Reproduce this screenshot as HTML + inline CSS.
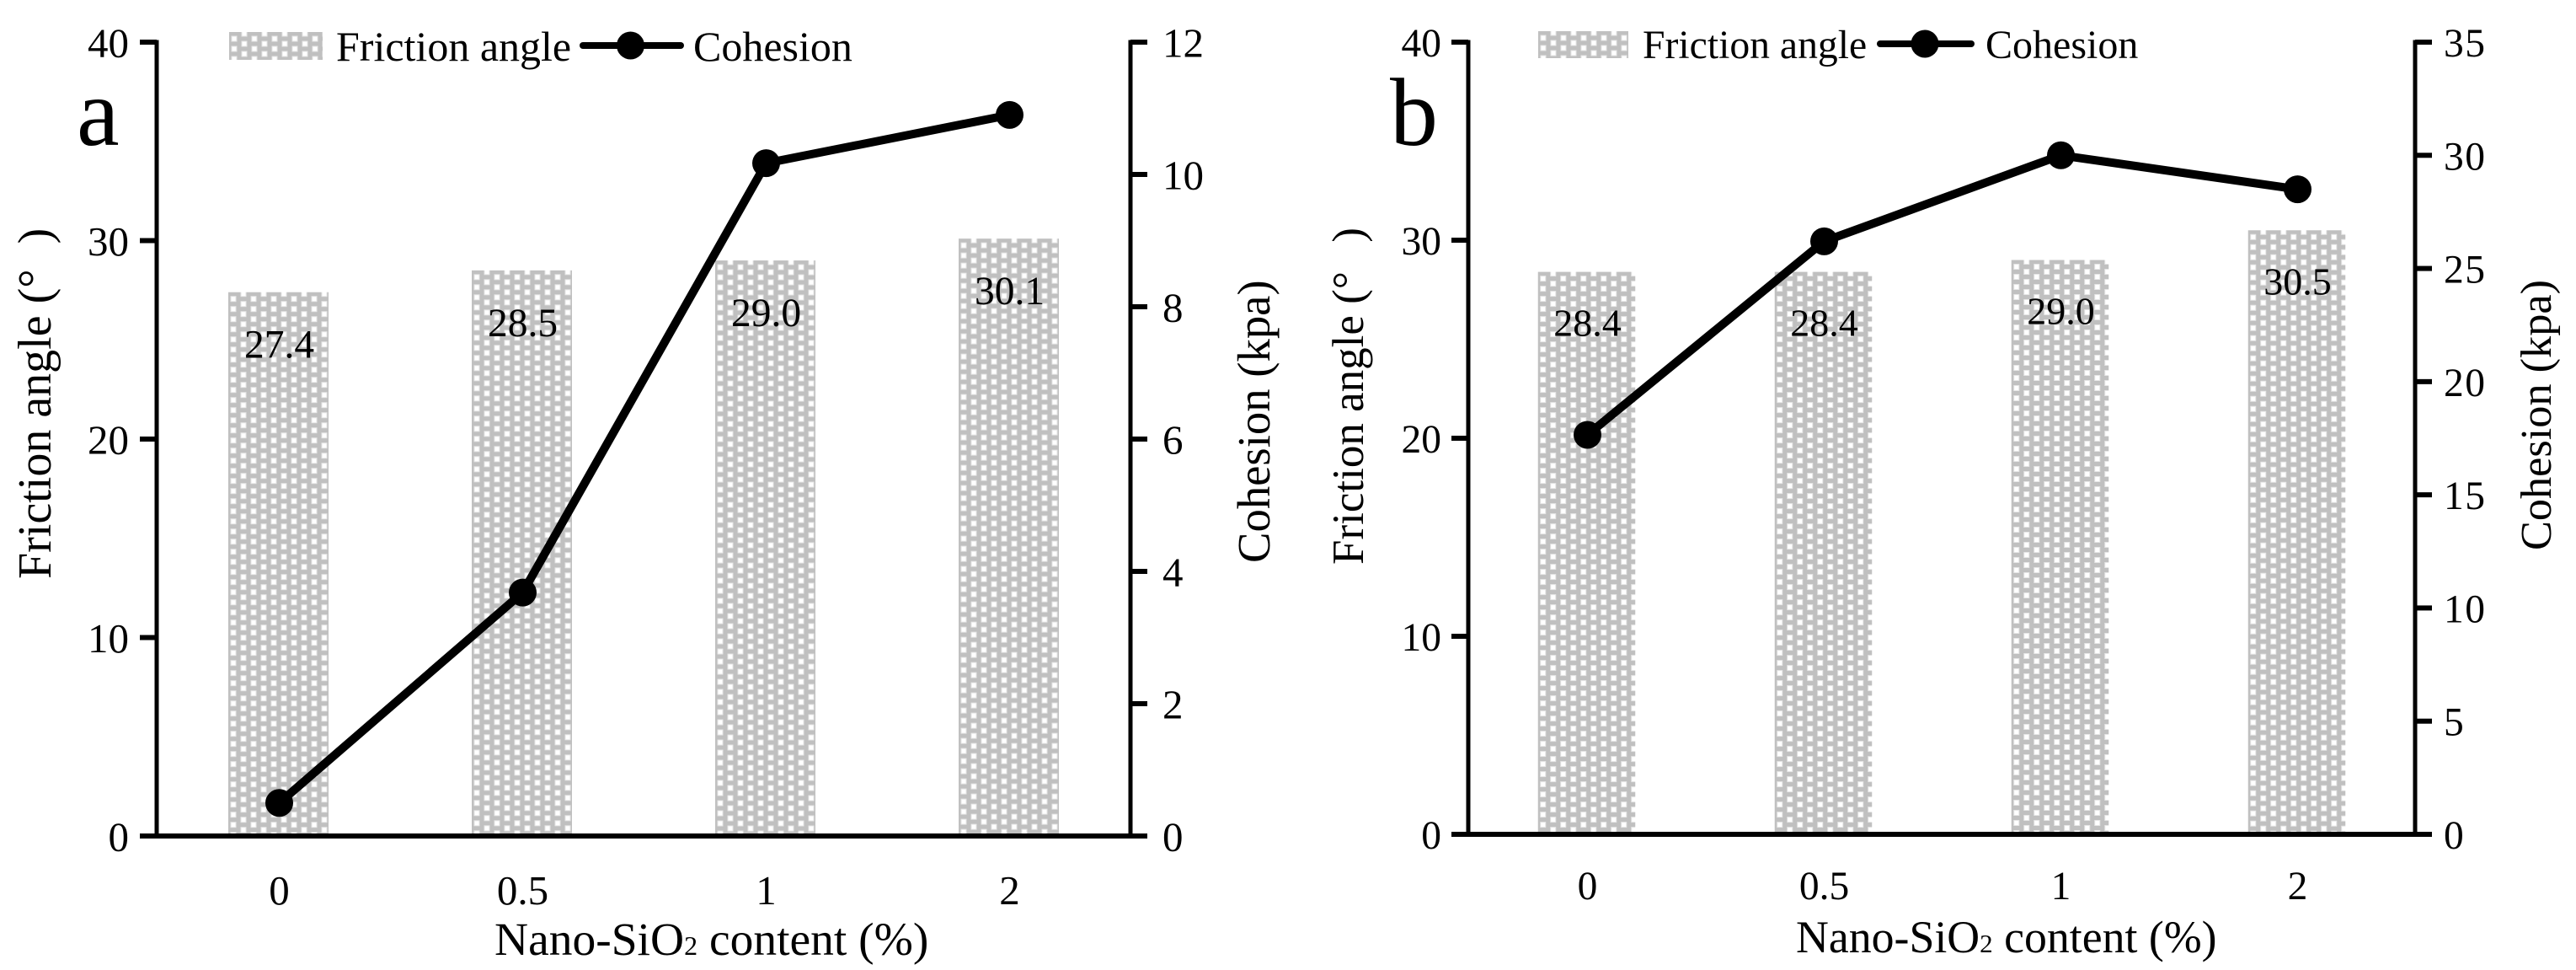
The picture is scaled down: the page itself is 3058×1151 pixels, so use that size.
<!DOCTYPE html>
<html lang="en">
<head>
<meta charset="utf-8">
<title>Friction angle and cohesion vs Nano-SiO2 content</title>
<style>
  html, body { margin: 0; padding: 0; background: #fff; }
  svg { display: block; }
  text { font-family: "Liberation Serif", "Times New Roman", serif; fill: #000; }
</style>
</head>
<body>
<svg id="figure" xmlns="http://www.w3.org/2000/svg" width="3058" height="1151" viewBox="0 0 3058 1151">
  <rect x="0" y="0" width="3058" height="1151" fill="#fff"/>
  <defs id="defs"></defs>
  <g id="panel-a"></g>
  <g id="panel-b"></g>

  <text x="91" y="172" font-size="114">a</text>
  <text x="1650" y="172" font-size="114">b</text>

  <!-- panel a titles -->
  <text transform="translate(60 687) rotate(-90)" font-size="56">Friction angle (° <tspan dx="16">)</tspan></text>
  <text transform="translate(1507 668) rotate(-90)" font-size="54.7">Cohesion (kpa)</text>
  <text x="587" y="1133" font-size="55.5">Nano-SiO<tspan font-size="32">2</tspan> content (%)</text>

  <!-- panel b titles -->
  <text transform="translate(1618 670) rotate(-90)" font-size="53">Friction angle (° <tspan dx="21">)</tspan></text>
  <text transform="translate(3028 653) rotate(-90)" font-size="52.3">Cohesion (kpa)</text>
  <text x="2132" y="1130" font-size="53.8">Nano-SiO<tspan font-size="31">2</tspan> content (%)</text>

  <!-- legend a -->
  <g>
    <rect id="swatch-a" x="272" y="38" width="111" height="33"/>
    <text x="399" y="72" font-size="50">Friction angle</text>
    <line x1="692" y1="54" x2="808" y2="54" stroke="#000" stroke-width="8" stroke-linecap="round"/>
    <circle cx="748.5" cy="54" r="16.5" fill="#000"/>
    <text x="823" y="72" font-size="50">Cohesion</text>
  </g>

  <!-- legend b -->
  <g>
    <rect id="swatch-b" x="1826" y="37" width="107" height="32"/>
    <text x="1950" y="69" font-size="47.7">Friction angle</text>
    <line x1="2232" y1="52" x2="2340" y2="52" stroke="#000" stroke-width="8" stroke-linecap="round"/>
    <circle cx="2285" cy="52" r="16.5" fill="#000"/>
    <text x="2357" y="69" font-size="48">Cohesion</text>
  </g>

  <script>
    const categories = ['0', '0.5', '1', '2'];
    const frictionTicks = [0, 10, 20, 30, 40];
    const frictionA = [27.4, 28.5, 29.0, 30.1];
    const cohesionA = [0.5, 3.68, 10.17, 10.9];
    const cohesionTicksA = [0, 2, 4, 6, 8, 10, 12];
    const frictionB = [28.4, 28.4, 29.0, 30.5];
    const cohesionB = [17.65, 26.2, 30.0, 28.5];
    const cohesionTicksB = [0, 5, 10, 15, 20, 25, 30, 35];

    const NS = 'http://www.w3.org/2000/svg';
    const defs = document.getElementById('defs');

    function make(tag, attrs, parent) {
      const el = document.createElementNS(NS, tag);
      for (const key in attrs) el.setAttribute(key, attrs[key]);
      if (parent) parent.appendChild(el);
      return el;
    }

    let patternCount = 0;
    function dotPattern(originX, originY) {
      const id = 'dots-' + (patternCount++);
      const p = make('pattern', {
        id: id, patternUnits: 'userSpaceOnUse', width: 24, height: 12,
        patternTransform: 'translate(' + originX + ' ' + originY + ')'
      }, defs);
      make('rect', { x: 0, y: 0, width: 24, height: 12, fill: '#c0c0c0' }, p);
      const squares = [[3, 5], [15, -1], [15, 11]];
      squares.forEach(function (s) {
        make('rect', { x: s[0], y: s[1], width: 6, height: 6, fill: '#fff', stroke: '#e6e6e6', 'stroke-width': 1 }, p);
      });
      return 'url(#' + id + ')';
    }

    function drawPanel(cfg) {
      const root = document.getElementById(cfg.rootId);
      const bandWidth = (cfg.rightX - cfg.leftX) / categories.length;
      const xScale = function (i) { return cfg.leftX + bandWidth * (i + 0.5); };
      const yLeft = function (v) { return cfg.bottomY - (v / cfg.leftMax) * (cfg.bottomY - cfg.topY); };
      const yRight = function (v) { return cfg.bottomY - (v / cfg.rightMax) * (cfg.bottomY - cfg.topY); };

      // bars
      cfg.friction.forEach(function (v, i) {
        const x = xScale(i) - cfg.barWidth / 2;
        const y = yLeft(v);
        const bar = make('rect', { x: x, y: y, width: cfg.barWidth, height: cfg.bottomY - y, fill: dotPattern(x, y) }, root);
        
        
      });

      // bar value labels
      cfg.friction.forEach(function (v, i) {
        const t = make('text', { x: xScale(i) + 1, y: yLeft(v) + cfg.valueOffset, 'font-size': cfg.valueSize, 'text-anchor': 'middle' }, root);
        
        
        t.textContent = v.toFixed(1);
      });

      // axes
      const axisLeft = make('rect', { x: cfg.leftX - 2.5, y: cfg.topY - 2.5, width: 5, height: cfg.bottomY - cfg.topY + 2.5 }, root);
      
      
      const axisRight = make('rect', { x: cfg.rightX - 2.5, y: cfg.topY - 2.5, width: 5, height: cfg.bottomY - cfg.topY + 2.5 }, root);
      
      
      const axisX = make('rect', { x: cfg.leftX - 20, y: cfg.bottomY - 3, width: cfg.rightX - cfg.leftX + 40, height: 6 }, root);
      
      

      // left ticks
      frictionTicks.forEach(function (v) {
        const y = yLeft(v);
        const tick = make('rect', { x: cfg.leftX - 20, y: y - 3, width: 20, height: 6 }, root);
        
        
        const t = make('text', { x: cfg.leftLabelX, y: y + cfg.tickBaseline, 'font-size': cfg.tickSize, 'text-anchor': 'end' }, root);
        
        
        t.textContent = String(v);
      });

      // right ticks
      cfg.rightTicks.forEach(function (v) {
        const y = yRight(v);
        const tick = make('rect', { x: cfg.rightX, y: y - 3, width: 20, height: 6 }, root);
        
        
        const t = make('text', { x: cfg.rightLabelX, y: y + cfg.tickBaseline, 'font-size': cfg.tickSize, 'letter-spacing': cfg.rightSpacing }, root);
        
        
        t.textContent = String(v);
      });

      // category labels
      categories.forEach(function (c, i) {
        const t = make('text', { x: xScale(i) + 1, y: cfg.xLabelY, 'font-size': cfg.tickSize, 'text-anchor': 'middle' }, root);
        
        
        t.textContent = c;
      });

      // cohesion line
      const pts = cfg.cohesion.map(function (v, i) { return xScale(i) + 1 + ',' + yRight(v); }).join(' ');
      const line = make('polyline', { points: pts, fill: 'none', stroke: '#000', 'stroke-width': 10, 'stroke-linejoin': 'round' }, root);
      
      
      cfg.cohesion.forEach(function (v, i) {
        const m = make('circle', { cx: xScale(i) + 1, cy: yRight(v), r: 16.5, fill: '#000' }, root);
        
        
      });
    }

    document.getElementById('swatch-a').setAttribute('fill', dotPattern(272, 38));
    document.getElementById('swatch-b').setAttribute('fill', dotPattern(1826, 37));

    drawPanel({
      rootId: 'panel-a', leftX: 186, rightX: 1342, topY: 50, bottomY: 992,
      leftMax: 40, rightMax: 12, barWidth: 119,
      friction: frictionA, cohesion: cohesionA, rightTicks: cohesionTicksA,
      valueOffset: 78, valueSize: 47.5, tickSize: 49, tickBaseline: 17.5,
      leftLabelX: 153, rightLabelX: 1380, rightSpacing: 0, xLabelY: 1073
    });

    drawPanel({
      rootId: 'panel-b', leftX: 1743, rightX: 2867, topY: 50, bottomY: 990,
      leftMax: 40, rightMax: 35, barWidth: 115.5,
      friction: frictionB, cohesion: cohesionB, rightTicks: cohesionTicksB,
      valueOffset: 76, valueSize: 46, tickSize: 47.5, tickBaseline: 17,
      leftLabelX: 1711, rightLabelX: 2901, rightSpacing: 1.5, xLabelY: 1067
    });
  </script>
</svg>
</body>
</html>
